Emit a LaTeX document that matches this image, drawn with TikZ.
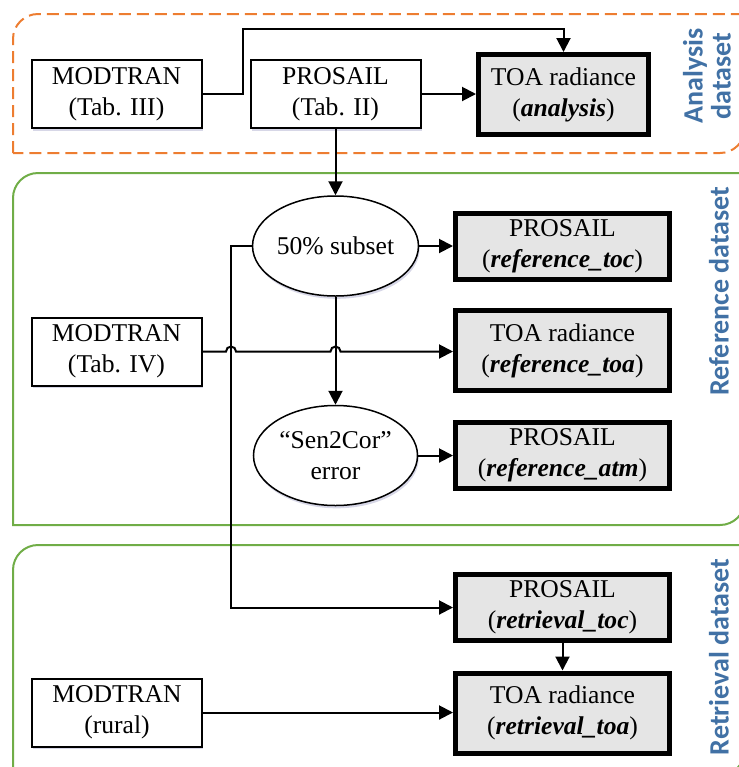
\documentclass[tikz,border=0pt]{standalone}
\usepackage{fontspec}
\setmainfont{Liberation Serif}
\newfontfamily\labelfont{Carlito}
\usetikzlibrary{arrows.meta,shapes.geometric,shadows}

\definecolor{grouporange}{RGB}{237,125,49}
\definecolor{groupgreen}{RGB}{112,173,71}
\definecolor{labelblue}{RGB}{65,113,165}
\definecolor{boxgray}{RGB}{229,229,229}

\begin{document}
\begin{tikzpicture}[
    x=0.5pt, y=-0.5pt,
    glow/.style={drop shadow={shadow xshift=0.6pt, shadow yshift=-1.4pt, fill=blue!25!gray, opacity=0.25}},
    txt/.style={font=\fontsize{12.8}{15.5}\selectfont, align=center, inner sep=0pt},
    whitebox/.style={txt, draw, line width=1pt, fill=white, glow, minimum width=85pt, minimum height=34pt},
    graybox/.style={txt, draw, line width=2.5pt, fill=boxgray, glow, minimum width=107pt, minimum height=33pt},
    tallbox/.style={graybox, minimum height=40pt},
    oval/.style={txt, ellipse, draw, line width=0.75pt, fill=white, glow, minimum width=82pt, minimum height=50pt},
    arrow/.style={draw, line width=1pt, -{Triangle[length=7pt,width=7pt]}},
    grouplabel/.style={font=\labelfont\bfseries\fontsize{14}{14}\selectfont, text=labelblue, rotate=90, align=center, inner sep=0pt}
]
    \useasboundingbox (0,0) rectangle (739,767);

    % Dataset frames
    \draw[grouporange, line width=1pt, dash pattern=on 6pt off 3pt]
        (13,153) -- (13,39) arc[start angle=180, end angle=90, radius=12.5pt] -- (745,14)
        -- (745,128) arc[start angle=0, end angle=-90, radius=12.5pt] -- cycle;
    \draw[groupgreen, line width=1pt]
        (13,525) -- (13,198) arc[start angle=180, end angle=90, radius=12.5pt] -- (745,173)
        -- (745,500) arc[start angle=0, end angle=-90, radius=12.5pt] -- cycle;
    \draw[groupgreen, line width=1pt]
        (13,775) -- (13,570) arc[start angle=180, end angle=90, radius=12.5pt] -- (745,545)
        -- (745,750) arc[start angle=0, end angle=-90, radius=12.5pt] -- cycle;

    \node[grouplabel] (lblana) at (707,76) {Analysis\\dataset};
    \node[grouplabel] (lblref) at (719,291) {Reference dataset};
    \node[grouplabel] (lblret) at (719,657) {Retrieval dataset};

    % Analysis dataset
    \node[whitebox] (modA) at (116.5,94) {MODTRAN\\(Tab. III)};
    \node[whitebox] (proA) at (335.5,94) {PROSAIL\\(Tab. II)};
    \node[tallbox, minimum width=85pt] (toaA) at (563.5,94.5) {TOA radiance\\(\textbf{\textit{analysis}})};

    % Reference dataset
    \node[oval] (subset) at (335.5,246) {50\% subset};
    \node[graybox] (refToc) at (562.5,246) {PROSAIL\\(\textbf{\textit{reference\_toc}})};
    \node[whitebox] (modR) at (116.5,351.5) {MODTRAN\\(Tab. IV)};
    \node[tallbox] (refToa) at (562.5,350.5) {TOA radiance\\(\textbf{\textit{reference\_toa}})};
    \node[oval] (sencor) at (335.5,455.5) {“Sen2Cor”\\error};
    \node[graybox] (refAtm) at (562.5,455.5) {PROSAIL\\(\textbf{\textit{reference\_atm}})};

    % Retrieval dataset
    \node[graybox] (retToc) at (562.5,607.5) {PROSAIL\\(\textbf{\textit{retrieval\_toc}})};
    \node[whitebox] (modT) at (117,712.5) {MODTRAN\\(rural)};
    \node[tallbox] (retToa) at (562.5,713) {TOA radiance\\(\textbf{\textit{retrieval\_toa}})};

    \coordinate (upA) at (243,29);
    \coordinate (split) at (231,246);
    \coordinate (downT) at (231,607.5);

    % Connectors
    \draw[arrow] (modA.east) -| (upA) -| (toaA.north);
    \draw[arrow] (proA.east) -- (toaA.west |- proA.east);
    \draw[arrow] (proA.south) -- (subset.north);
    \draw[arrow] (subset.east) -- (refToc.west);
    \draw[arrow] (subset.south) -- (sencor.north);
    \draw[arrow] (sencor.east) -- (refAtm.west);
    \draw[arrow] (subset.west) -- (split) -- (downT) -- (retToc.west);
    \draw[arrow] (modR.east) -- ([xshift=-2.5pt]split |- modR.east)
        arc[start angle=180, end angle=0, radius=2.5pt]
        -- ([xshift=-2.5pt]subset.south |- modR.east)
        arc[start angle=180, end angle=0, radius=2.5pt]
        -- (refToa.west |- modR.east);
    \draw[arrow] (retToc.south) -- (retToa.north);
    \draw[arrow] (modT.east) -- (retToa.west |- modT.east);

\end{tikzpicture}
\end{document}
